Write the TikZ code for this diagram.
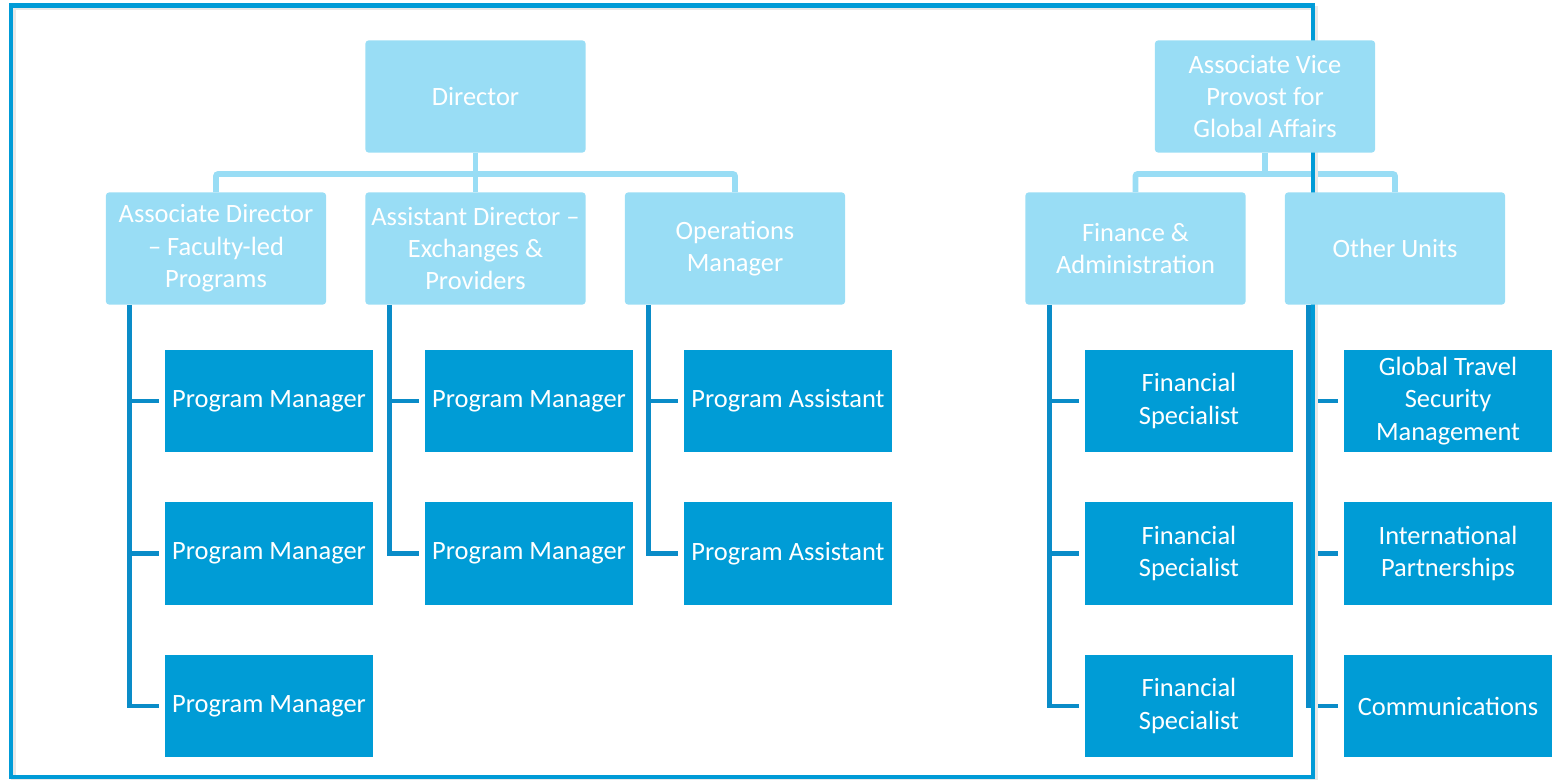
\documentclass[tikz,border=0pt]{standalone}
\usepackage{fontspec}
\setmainfont{Carlito}
\usetikzlibrary{backgrounds}

\definecolor{headfill}{RGB}{153,221,245}
\definecolor{stafffill}{RGB}{0,156,214}
\definecolor{staffwire}{RGB}{10,140,200}
\definecolor{frameblue}{RGB}{0,155,215}

\tikzset{
    headbox/.style={fill=headfill, rounded corners=0.075cm, minimum width=5.5cm,
        minimum height=2.8cm, text=white, align=center, inner sep=1pt,
        font=\fontsize{18.8}{23}\selectfont},
    staffbox/.style={fill=stafffill, minimum width=5.2cm, minimum height=2.55cm,
        text=white, align=center, inner sep=1pt,
        font=\fontsize{18.8}{23}\selectfont},
    headwire/.style={draw=headfill, line width=0.14cm, rounded corners=0.05cm},
    staffwire/.style={draw=staffwire, line width=0.12cm, shorten >=0.15cm},
}

\begin{document}
\begin{tikzpicture}[x=0.025cm, y=-0.025cm]
            \useasboundingbox (0,0) rectangle (1552,780);

            % heads
            \node[headbox] (dir) at (475.5,96.5) {Director};
            \node[headbox] (avp) at (1265,96.5) {Associate Vice\\Provost for\\Global Affairs};

            \node[headbox] (adfac) at (216,248.5) {Associate Director\\– Faculty-led\\Programs};
            \node[headbox] (adexc) at (475.5,248.5) {Assistant Director –\\Exchanges \&\\Providers};
            \node[headbox] (ops) at (735,248.5) {Operations\\Manager};
            \node[headbox] (fin) at (1135.5,248.5) {Finance \&\\Administration};
            \node[headbox] (oth) at (1395,248.5) {Other Units};

            % staff
            \foreach \r/\y in {1/401,2/553.5,3/706} {
                \node[staffbox] (pmfac\r) at (269,\y) {Program Manager};
                \node[staffbox] (finspec\r) at (1189,\y) {Financial\\Specialist};
            }
            \foreach \r/\y in {1/401,2/553.5} {
                \node[staffbox] (pmexc\r) at (529,\y) {Program Manager};
                \node[staffbox] (progasst\r) at (788,\y) {Program Assistant};
            }
            \node[staffbox] (travel) at (1448,401) {Global Travel\\Security\\Management};
            \node[staffbox] (partner) at (1448,553.5) {International\\Partnerships};
            \node[staffbox] (comms) at (1448,706) {Communications};

            \coordinate (leftbar) at (475.5,174);
            \coordinate (rightbar) at (1265,174);

            \begin{pgfonlayer}{background}
                \draw[headwire] (dir) -- (adexc);
                \draw[headwire] (adfac.north) |- (leftbar) -| (ops.north);
                \draw[headwire] (avp) -- (rightbar);
                \draw[headwire] (fin.north) |- (rightbar) -| (oth.north);

                \foreach \r in {1,2,3} {
                    \draw[staffwire] ([xshift=0.6cm]adfac.south west) |- (pmfac\r.west);
                    \draw[staffwire] ([xshift=0.6cm]fin.south west) |- (finspec\r.west);
                }
                \foreach \r in {1,2} {
                    \draw[staffwire] ([xshift=0.6cm]adexc.south west) |- (pmexc\r.west);
                    \draw[staffwire] ([xshift=0.6cm]ops.south west) |- (progasst\r.west);
                }
                \foreach \n in {travel,partner,comms}
                    \draw[staffwire] ([xshift=0.6cm]oth.south west) |- (\n.west);

                % frame
                \draw[gray!18, line width=0.1cm] (13.5,8) rectangle (1315.5,779.5);
                \draw[frameblue, line width=0.11cm] (11,5.5) rectangle (1313,777);
            \end{pgfonlayer}
        \end{tikzpicture}
\end{document}
